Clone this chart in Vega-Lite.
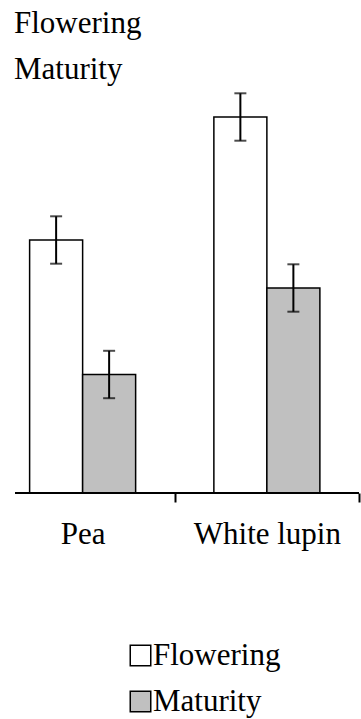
{
  "$schema": "https://vega.github.io/schema/vega-lite/v6.json",
  "width": 344,
  "height": 393,
  "autosize": {"type": "none"},
  "padding": {"left": 15, "top": 100, "right": 2, "bottom": 226},
  "background": "white",
  "config": {"view": {"stroke": null}, "font": "Liberation Serif"},
  "title": {
    "text": ["Flowering", "Maturity"],
    "anchor": "start",
    "frame": "group",
    "font": "Liberation Serif",
    "fontSize": 31,
    "fontWeight": "normal",
    "color": "black",
    "lineHeight": 46,
    "offset": 6,
    "dx": -1
  },
  "data": {
    "values": [
      {"crop": "Pea", "stage": "Flowering", "value": 253, "lo": 229.3, "hi": 276.7},
      {"crop": "Pea", "stage": "Maturity", "value": 118.5, "lo": 94.8, "hi": 142.2},
      {"crop": "White lupin", "stage": "Flowering", "value": 376, "lo": 352.3, "hi": 399.7},
      {"crop": "White lupin", "stage": "Maturity", "value": 205, "lo": 181.3, "hi": 228.7}
    ]
  },
  "layer": [
    {
      "mark": {"type": "bar", "stroke": "black", "strokeWidth": 1.5},
      "encoding": {
        "x": {
          "field": "crop",
          "type": "nominal",
          "sort": ["Pea", "White lupin"],
          "scale": {"domain": ["Pea", "White lupin"], "range": [-24.5, 344], "paddingInner": 0, "paddingOuter": 0},
          "axis": {
            "title": null,
            "domain": false,
            "tickBand": "extent",
            "tickSize": 9,
            "tickWidth": 2,
            "tickColor": "black",
            "labelAngle": 0,
            "labelFont": "Liberation Serif",
            "labelFontSize": 31,
            "labelColor": "black",
            "labelPadding": 17
          }
        },
        "xOffset": {
          "field": "stage",
          "type": "nominal",
          "scale": {"domain": ["Flowering", "Maturity"], "paddingInner": 0, "paddingOuter": 0.738}
        },
        "y": {"field": "value", "type": "quantitative", "scale": {"domain": [0, 393], "nice": false, "zero": true}, "axis": null},
        "color": {
          "field": "stage",
          "type": "nominal",
          "scale": {"domain": ["Flowering", "Maturity"], "range": ["#ffffff", "#c0c0c0"]},
          "legend": {
            "orient": "none",
            "legendX": 110,
            "legendY": 540,
            "title": null,
            "direction": "vertical",
            "symbolType": "square",
            "symbolSize": 420,
            "symbolStrokeColor": "black",
            "symbolStrokeWidth": 1.5,
            "labelFont": "Liberation Serif",
            "labelFontSize": 31,
            "labelColor": "black",
            "labelOffset": -3,
            "rowPadding": 14,
            "padding": 0
          }
        }
      }
    },
    {
      "mark": {"type": "rule", "color": "black", "strokeWidth": 2},
      "encoding": {
        "x": {"field": "crop", "type": "nominal"},
        "xOffset": {"field": "stage", "type": "nominal"},
        "y": {"field": "lo", "type": "quantitative"},
        "y2": {"field": "hi"}
      }
    },
    {
      "mark": {"type": "tick", "color": "black", "thickness": 2, "size": 12, "orient": "horizontal"},
      "encoding": {
        "x": {"field": "crop", "type": "nominal"},
        "xOffset": {"field": "stage", "type": "nominal"},
        "y": {"field": "lo", "type": "quantitative"}
      }
    },
    {
      "mark": {"type": "tick", "color": "black", "thickness": 2, "size": 12, "orient": "horizontal"},
      "encoding": {
        "x": {"field": "crop", "type": "nominal"},
        "xOffset": {"field": "stage", "type": "nominal"},
        "y": {"field": "hi", "type": "quantitative"}
      }
    },
    {
      "data": {"values": [{"base": 0}]},
      "mark": {"type": "rule", "color": "black", "strokeWidth": 2},
      "encoding": {"y": {"field": "base", "type": "quantitative"}}
    }
  ]
}
